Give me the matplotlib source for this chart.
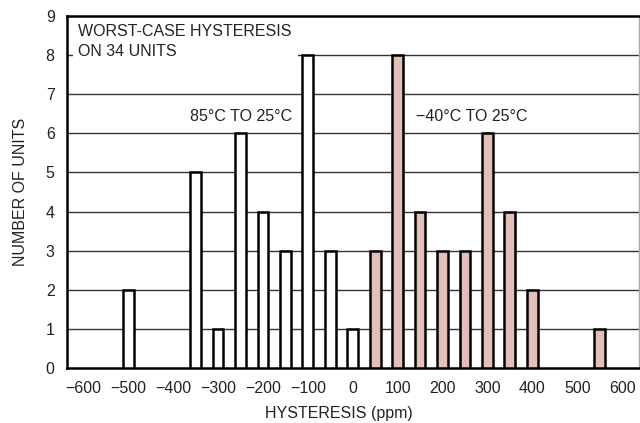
import matplotlib.pyplot as plt

plt.rcParams['font.family'] = ['Liberation Sans Narrow', 'Liberation Sans', 'DejaVu Sans']

# 85C -> 25C hysteresis (open bars)
hot_ppm = [-500, -350, -300, -250, -200, -150, -100, -50, 0]
hot_units = [2, 5, 1, 6, 4, 3, 8, 3, 1]

# -40C -> 25C hysteresis (shaded bars)
cold_ppm = [50, 100, 150, 200, 250, 300, 350, 400, 550]
cold_units = [3, 8, 4, 3, 3, 6, 4, 2, 1]

xticks = [-600, -500, -400, -300, -200, -100, 0, 100, 200, 300, 400, 500, 600]
xtick_labels = ['\u2212600', '\u2212500', '\u2212400', '\u2212300', '\u2212200', '\u2212100',
                '0', '100', '200', '300', '400', '500', '600']

fs = 11.5
fig = plt.figure(figsize=(6.4, 4.23), dpi=100)
ax = fig.add_axes([0.105, 0.130, 0.893, 0.832])

for y in range(1, 9):
    ax.axhline(y, color='#333333', lw=1.0, zorder=1)

ax.bar(hot_ppm, hot_units, width=24, color='white', edgecolor='black', lw=1.8, zorder=3)
ax.bar(cold_ppm, cold_units, width=24, color='#e0c0b8', edgecolor='black', lw=1.8, zorder=3)

ax.set_xlim(-636, 637)
ax.set_ylim(0, 9)
ax.set_xticks(xticks)
ax.set_xticklabels(xtick_labels)
ax.set_yticks(range(10))
ax.tick_params(length=0, labelsize=fs, colors='#222222')
ax.tick_params(axis='x', pad=9)
ax.tick_params(axis='y', pad=9)

for side in ['left', 'bottom', 'top']:
    ax.spines[side].set_linewidth(1.8)
    ax.spines[side].set_color('black')
ax.spines['right'].set_color('#aaaaaa')
ax.spines['right'].set_linewidth(1.0)

ax.text(-611, 8.8, 'WORST-CASE HYSTERESIS\nON 34 UNITS', fontsize=fs, va='top', ha='left',
        linespacing=1.4, color='#222222', zorder=4,
        bbox=dict(facecolor='white', edgecolor='none', pad=4))
ax.text(-362, 6.42, '85\u00b0C TO 25\u00b0C', fontsize=fs, va='center', ha='left', color='#222222')
ax.text(140, 6.42, '\u221240\u00b0C TO 25\u00b0C', fontsize=fs, va='center', ha='left', color='#222222')

ax.set_xlabel('HYSTERESIS (ppm)', fontsize=fs, color='#222222')
ax.xaxis.set_label_coords(0.476, -0.108)
ax.set_ylabel('NUMBER OF UNITS', fontsize=fs, color='#222222')
ax.yaxis.set_label_coords(-0.068, 0.5)

fig.savefig('out.png', dpi=100)
